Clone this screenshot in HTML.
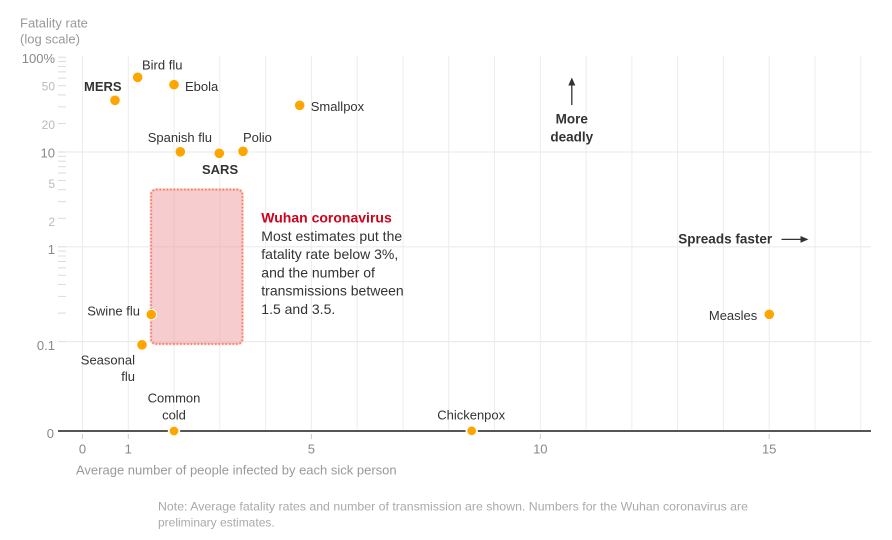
<!DOCTYPE html>
<html>
<head>
<meta charset="utf-8">
<style>
  html,body{margin:0;padding:0;background:#fff;}
  svg{display:block;font-family:"Liberation Sans",Arial,sans-serif;}
  .lbl{font-size:13px;fill:#333;}
  .b{font-weight:bold;}
</style>
</head>
<body>
<svg width="892" height="540" viewBox="0 0 892 540" xmlns="http://www.w3.org/2000/svg">
  <!-- vertical gridlines -->
  <g stroke="#ececec" stroke-width="1">
    <line x1="82.5" y1="56" x2="82.5" y2="431"/>
    <line x1="128.3" y1="56" x2="128.3" y2="431"/>
    <line x1="174.1" y1="56" x2="174.1" y2="431"/>
    <line x1="219.8" y1="56" x2="219.8" y2="431"/>
    <line x1="265.6" y1="56" x2="265.6" y2="431"/>
    <line x1="311.4" y1="56" x2="311.4" y2="431"/>
    <line x1="357.2" y1="56" x2="357.2" y2="431"/>
    <line x1="403.0" y1="56" x2="403.0" y2="431"/>
    <line x1="448.7" y1="56" x2="448.7" y2="431"/>
    <line x1="494.5" y1="56" x2="494.5" y2="431"/>
    <line x1="540.3" y1="56" x2="540.3" y2="431"/>
    <line x1="586.1" y1="56" x2="586.1" y2="431"/>
    <line x1="631.9" y1="56" x2="631.9" y2="431"/>
    <line x1="677.6" y1="56" x2="677.6" y2="431"/>
    <line x1="723.4" y1="56" x2="723.4" y2="431"/>
    <line x1="769.2" y1="56" x2="769.2" y2="431"/>
    <line x1="815.0" y1="56" x2="815.0" y2="431"/>
    <line x1="860.8" y1="56" x2="860.8" y2="431"/>
  </g>
  <!-- horizontal gridlines -->
  <g stroke="#ececec" stroke-width="1.2">
    <line x1="66" y1="152" x2="871" y2="152"/>
    <line x1="66" y1="246.8" x2="871" y2="246.8"/>
    <line x1="66" y1="341.6" x2="871" y2="341.6"/>
  </g>

  <!-- y minor ticks -->
  <g stroke="#dcdcdc" stroke-width="1">
    <line x1="58" y1="57.2" x2="66" y2="57.2"/>
    <line x1="58" y1="61.5" x2="66" y2="61.5"/>
    <line x1="58" y1="66.4" x2="66" y2="66.4"/>
    <line x1="58" y1="71.9" x2="66" y2="71.9"/>
    <line x1="58" y1="78.2" x2="66" y2="78.2"/>
    <line x1="58" y1="85.7" x2="66" y2="85.7"/>
    <line x1="58" y1="94.9" x2="66" y2="94.9"/>
    <line x1="58" y1="106.8" x2="66" y2="106.8"/>
    <line x1="58" y1="123.5" x2="66" y2="123.5"/>
    <line x1="58" y1="152" x2="66" y2="152"/>
    <line x1="58" y1="156.3" x2="66" y2="156.3"/>
    <line x1="58" y1="161.2" x2="66" y2="161.2"/>
    <line x1="58" y1="166.7" x2="66" y2="166.7"/>
    <line x1="58" y1="173.0" x2="66" y2="173.0"/>
    <line x1="58" y1="180.5" x2="66" y2="180.5"/>
    <line x1="58" y1="189.7" x2="66" y2="189.7"/>
    <line x1="58" y1="201.6" x2="66" y2="201.6"/>
    <line x1="58" y1="218.3" x2="66" y2="218.3"/>
    <line x1="58" y1="246.8" x2="66" y2="246.8"/>
    <line x1="58" y1="251.1" x2="66" y2="251.1"/>
    <line x1="58" y1="256.0" x2="66" y2="256.0"/>
    <line x1="58" y1="261.5" x2="66" y2="261.5"/>
    <line x1="58" y1="267.8" x2="66" y2="267.8"/>
    <line x1="58" y1="275.3" x2="66" y2="275.3"/>
    <line x1="58" y1="284.5" x2="66" y2="284.5"/>
    <line x1="58" y1="296.4" x2="66" y2="296.4"/>
    <line x1="58" y1="313.1" x2="66" y2="313.1"/>
    <line x1="58" y1="341.6" x2="66" y2="341.6"/>
  </g>

  <!-- y axis labels -->
  <g text-anchor="end">
    <text x="55" y="63" font-size="13" fill="#888">100%</text>
    <text x="55" y="90.7" font-size="12" fill="#bbb">50</text>
    <text x="55" y="129" font-size="12" fill="#bbb">20</text>
    <text x="55" y="157.5" font-size="13" fill="#888">10</text>
    <text x="55" y="188" font-size="12" fill="#bbb">5</text>
    <text x="55" y="226" font-size="12" fill="#bbb">2</text>
    <text x="55" y="254" font-size="13" fill="#888">1</text>
    <text x="55" y="350" font-size="13" fill="#888">0.1</text>
    <text x="54" y="438" font-size="13" fill="#888">0</text>
  </g>
  <text x="20" y="27.5" font-size="13" fill="#999">Fatality rate</text>
  <text x="20" y="43.5" font-size="13" fill="#999">(log scale)</text>

  <!-- Wuhan box -->
  <rect x="151" y="189.5" width="91.5" height="154.5" rx="5" ry="5" fill="none" stroke="#f7b0a0" stroke-width="3" opacity="0.35"/>
  <rect x="151" y="189.5" width="91.5" height="154.5" rx="5" ry="5" fill="#ef9a9e" fill-opacity="0.5" stroke="#f07552" stroke-width="1.5" stroke-dasharray="1.6 1.9"/>

  <!-- zero axis -->
  <line x1="58" y1="431" x2="871" y2="431" stroke="#555" stroke-width="2"/>
  <g stroke="#ccc" stroke-width="1">
    <line x1="82.5" y1="434" x2="82.5" y2="439"/>
    <line x1="128.3" y1="434" x2="128.3" y2="439"/>
    <line x1="311.4" y1="434" x2="311.4" y2="439"/>
    <line x1="540.3" y1="434" x2="540.3" y2="439"/>
    <line x1="769.2" y1="434" x2="769.2" y2="439"/>
  </g>
  <g text-anchor="middle" font-size="13" fill="#888">
    <text x="82.5" y="453.5">0</text>
    <text x="128.3" y="453.5">1</text>
    <text x="311.4" y="453.5">5</text>
    <text x="540.3" y="453.5">10</text>
    <text x="769.2" y="453.5">15</text>
  </g>
  <text x="76" y="474.3" font-size="13" fill="#999">Average number of people infected by each sick person</text>

  <!-- dots -->
  <g fill="#ffa500" stroke="#fff" stroke-width="1">
    <circle cx="115" cy="100.3" r="5.3"/>
    <circle cx="137.7" cy="77.3" r="5.3"/>
    <circle cx="174" cy="84.7" r="5.3"/>
    <circle cx="299.7" cy="105.3" r="5.3"/>
    <circle cx="180.3" cy="151.8" r="5.3"/>
    <circle cx="219.3" cy="153.3" r="5.3"/>
    <circle cx="243" cy="151.3" r="5.3"/>
    <circle cx="151.3" cy="314.5" r="5.3"/>
    <circle cx="142" cy="344.8" r="5.3"/>
    <circle cx="174" cy="431" r="5.3" stroke-width="1.8"/>
    <circle cx="471.7" cy="430.8" r="5.3" stroke-width="1.8"/>
    <circle cx="769.3" cy="314.3" r="5.3"/>
  </g>

  <!-- labels -->
  <text class="lbl" x="142" y="69.5">Bird flu</text>
  <text class="lbl b" x="84" y="91.2">MERS</text>
  <text class="lbl" x="185" y="91">Ebola</text>
  <text class="lbl" x="310.7" y="111.2">Smallpox</text>
  <text class="lbl" x="147.7" y="142">Spanish flu</text>
  <text class="lbl" x="243" y="142">Polio</text>
  <text class="lbl b" x="202" y="173.8">SARS</text>
  <text class="lbl" x="140" y="315.5" text-anchor="end">Swine flu</text>
  <text class="lbl" x="135" y="364.5" text-anchor="end">Seasonal</text>
  <text class="lbl" x="135" y="381" text-anchor="end">flu</text>
  <text class="lbl" x="174" y="402.7" text-anchor="middle">Common</text>
  <text class="lbl" x="174" y="419.5" text-anchor="middle">cold</text>
  <text class="lbl" x="471.2" y="419.3" text-anchor="middle">Chickenpox</text>
  <text class="lbl" x="757.3" y="320.2" text-anchor="end">Measles</text>

  <!-- annotation -->
  <text x="261.3" y="222.7" font-size="14" font-weight="bold" fill="#d0021b">Wuhan coronavirus</text>
  <g font-size="14" fill="#333">
    <text x="261.3" y="240.8">Most estimates put the</text>
    <text x="261.3" y="259.1">fatality rate below 3%,</text>
    <text x="261.3" y="277.4">and the number of</text>
    <text x="261.3" y="295.7">transmissions between</text>
    <text x="261.3" y="314">1.5 and 3.5.</text>
  </g>

  <!-- More deadly -->
  <line x1="571.8" y1="84" x2="571.8" y2="105" stroke="#333" stroke-width="1.3"/>
  <polygon points="571.8,77.5 568.3,85.5 575.3,85.5" fill="#333"/>
  <g font-size="13.5" font-weight="bold" fill="#333" text-anchor="middle">
    <text x="571.8" y="123.3">More</text>
    <text x="571.8" y="141.3">deadly</text>
  </g>

  <!-- Spreads faster -->
  <text x="678.3" y="243.5" font-size="13.5" font-weight="bold" fill="#333">Spreads faster</text>
  <line x1="781.5" y1="239.4" x2="802" y2="239.4" stroke="#333" stroke-width="1.3"/>
  <polygon points="808.5,239.4 800.5,236 800.5,242.8" fill="#333"/>

  <!-- note -->
  <text x="158" y="510.3" font-size="12" fill="#aaa" textLength="590" lengthAdjust="spacingAndGlyphs">Note: Average fatality rates and number of transmission are shown. Numbers for the Wuhan coronavirus are</text>
  <text x="158" y="526.5" font-size="12" fill="#aaa">preliminary estimates.</text>
</svg>
</body>
</html>
